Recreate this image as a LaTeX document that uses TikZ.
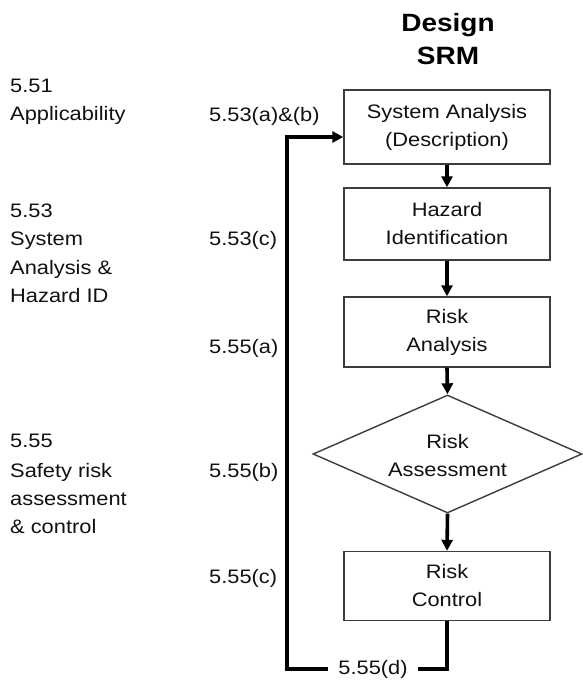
\documentclass[tikz,border=0pt]{standalone}
\usepackage{fontspec}
\setmainfont{Liberation Sans}[FakeStretch=1.12]
\usetikzlibrary{shapes.geometric,arrows.meta}
\definecolor{ink}{HTML}{111111}
\definecolor{frame}{HTML}{3C3C3C}
\begin{document}
\begin{tikzpicture}[x=1pt,y=-1pt,
  txt/.style={font=\fontsize{19.5}{28}\selectfont, text=ink, inner sep=0pt},
  lbl/.style={txt, anchor=base west},
  stepbox/.style={draw=frame, line width=1.4pt, fill=white, minimum width=206pt,
    align=center, txt},
  decision/.style={diamond, draw=frame, line width=1.4pt, inner sep=0pt,
    minimum width=269pt, minimum height=118pt, aspect=2.28},
  flow/.style={line width=3.6pt, draw=black, -{Triangle[length=11pt,width=11pt]}},
  loop/.style={line width=3.6pt, draw=black, line join=miter},
  title/.style={font=\fontsize{25}{33}\bfseries\selectfont, text=black, inner sep=0pt, anchor=base}
]
\useasboundingbox (0,0) rectangle (583,688);

% heading
\node[title] (h1) at (448,31) {Design};
\node[title] (h2) at (448,64) {SRM};

% section references, left column
\node[lbl] (s51)   at (10,92)  {5.51};
\node[lbl] (s51a)  at (10,120) {Applicability};
\node[lbl] (s53)   at (10,217) {5.53};
\node[lbl] (s53a)  at (10,245) {System};
\node[lbl] (s53b)  at (10,274) {Analysis \&};
\node[lbl] (s53c)  at (10,302) {Hazard ID};
\node[lbl] (s55)   at (10,447) {5.55};
\node[lbl] (s55a)  at (10,477) {Safety risk};
\node[lbl] (s55b)  at (10,505) {assessment};
\node[lbl] (s55c)  at (10,533) {\& control};

% paragraph references, middle column
\node[lbl] (p53ab) at (209,121) {5.53(a)\&(b)};
\node[lbl] (p53c)  at (209,245) {5.53(c)};
\node[lbl] (p55a)  at (209,353) {5.55(a)};
\node[lbl] (p55b)  at (209,477) {5.55(b)};
\node[lbl] (p55c)  at (209,583) {5.55(c)};

% process steps
\node[stepbox, minimum height=74pt] (sysana) at (447,127)
  {System Analysis\\(Description)};
\node[stepbox, minimum height=72pt] (hazid) at (447,224)
  {Hazard\\Identification};
\node[stepbox, minimum height=70pt] (riskan) at (447,332)
  {Risk\\Analysis};
\node[decision] (assess) at (447.5,454) {};
\node[txt, align=center] (assesstxt) at (447.5,456) {Risk\\Assessment};
\node[stepbox, minimum height=69pt] (control) at (447,586)
  {Risk\\Control};

% main flow
\draw[flow] (sysana.south) -- (hazid.north);
\draw[flow] (hazid.south) -- (riskan.north);
\draw[flow] (riskan.south) -- (assess.north);
\draw[flow] (assess.south) -- (control.north);

% feedback loop back to system analysis
\coordinate (loopbr) at (447,669);
\coordinate (loopbl) at (287,669);
\coordinate (looptl) at (287,137);
\draw[loop, -{Triangle[length=11pt,width=11pt]}]
  (control.south) -- (loopbr) -- (loopbl) -- (looptl) -- ([yshift=-10pt]sysana.west);
\node[txt, fill=white, inner xsep=10pt, inner ysep=2pt] (p55d) at (373,669) {5.55(d)};
\end{tikzpicture}
\end{document}
